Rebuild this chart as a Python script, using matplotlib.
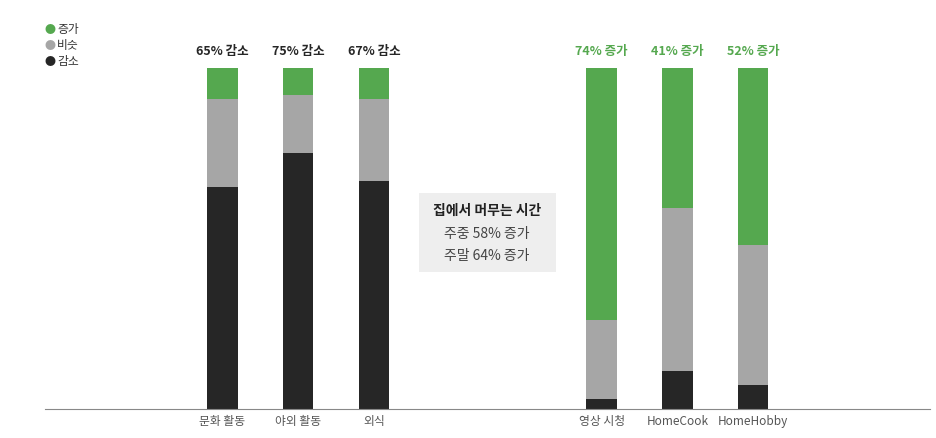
import matplotlib
matplotlib.use('Agg')
import matplotlib.pyplot as plt
from matplotlib.patches import Rectangle
import numpy as np

plt.rcParams['font.family'] = ['Noto Sans CJK KR', 'DejaVu Sans']

categories = ['문화 활동', '야외 활동', '외식', '영상 시청', 'HomeCook', 'HomeHobby']
decrease = [65, 75, 67, 3, 11, 7]
similar = [26, 17, 24, 23, 48, 41]
increase = [9, 8, 9, 74, 41, 52]
top_labels = ['65% 감소', '75% 감소', '67% 감소', '74% 증가', '41% 증가', '52% 증가']
positions = [0, 1, 2, 5, 6, 7]

GREEN = '#55a84f'
GRAY = '#a6a6a6'
BLACK = '#262626'

fig = plt.figure(figsize=(9.36, 4.38), dpi=100)
ax = fig.add_axes([45 / 936, 29 / 438, 885 / 936, 341 / 438])

x = np.array(positions)
bottom2 = np.array(decrease) + np.array(similar)
ax.bar(x, decrease, width=0.4, color=BLACK)
ax.bar(x, similar, width=0.4, bottom=decrease, color=GRAY)
ax.bar(x, increase, width=0.4, bottom=bottom2, color=GREEN)

for p, lab in zip(positions, top_labels):
    col = BLACK if '감소' in lab else GREEN
    ax.text(p, 103, lab, ha='center', va='bottom', fontsize=9, fontweight='bold',
            color=col, clip_on=False)

ax.set_xlim(-2.34, 9.33)
ax.set_ylim(0, 100)
ax.set_xticks(positions)
ax.set_xticklabels(categories, fontsize=8.5, color='#555555')
ax.tick_params(axis='x', length=0, pad=4)
ax.set_yticks([])
for s in ['top', 'right', 'left']:
    ax.spines[s].set_visible(False)
ax.spines['bottom'].set_color('#888888')

# center annotation box
fig.patches.append(Rectangle((419 / 936, 1 - 272 / 438), 137 / 936, 79 / 438,
                             transform=fig.transFigure, fc='#eeeeee', ec='none'))
fig.text(487 / 936, 1 - 211 / 438, '집에서 머무는 시간', ha='center', va='center',
         fontsize=10, fontweight='bold', color='#222222')
fig.text(487 / 936, 1 - 234 / 438, '주중 58% 증가', ha='center', va='center',
         fontsize=10, color='#444444')
fig.text(487 / 936, 1 - 256 / 438, '주말 64% 증가', ha='center', va='center',
         fontsize=10, color='#444444')

# legend
for lab, col, yy in [('증가', GREEN, 30), ('비슷', GRAY, 46), ('감소', BLACK, 62)]:
    fig.text(50 / 936, 1 - yy / 438, '●', color=col, fontsize=8, ha='center', va='center')
    fig.text(57 / 936, 1 - yy / 438, lab, color='#333333', fontsize=8.5, ha='left', va='center')

fig.savefig('out.png', dpi=100)
